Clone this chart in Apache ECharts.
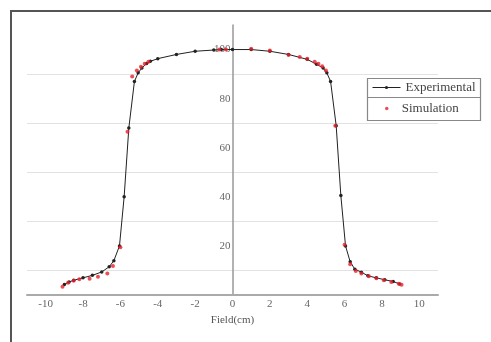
<!DOCTYPE html>
<html>
<head>
<meta charset="utf-8">
<script src="https://cdn.jsdelivr.net/npm/echarts@6/dist/echarts.min.js"></script>
<style>
html,body{margin:0;padding:0;background:#fff;}
#c{width:491px;height:342px;}
</style>
</head>
<body>
<div id="c"></div>
<script>
// Experimental (black line with markers)
var expX = [-9, -8.75, -8.5, -8, -7.5, -7, -6.6, -6.35, -6.05, -5.8, -5.55, -5.25, -5.05, -4.85, -4.6, -4.4, -4, -3, -2, -1, -0.6, 0, 1, 2, 3, 4, 4.5, 4.85, 5.05, 5.25, 5.55, 5.8, 6.05, 6.3, 6.55, 6.9, 7.25, 7.7, 8.15, 8.6, 8.95];
var expY = [4.3, 5.3, 6.0, 7.0, 8.0, 9.4, 11.5, 14, 20, 40, 68, 87, 90.5, 92.5, 94.3, 95.2, 96.3, 98, 99.3, 99.8, 100, 100, 100, 99.3, 98, 96, 94, 92.5, 90.5, 87, 69, 40.5, 20, 13.5, 10.5, 9.3, 7.8, 7, 6.2, 5.5, 4.5];
// Simulation (red points)
var simX = [-9.1, -8.8, -8.5, -8.2, -7.65, -7.2, -6.7, -6.4, -6.0, -5.62, -5.37, -5.12, -4.9, -4.7, -4.5, -0.7, -0.35, 1.0, 2.0, 3.0, 3.6, 4.0, 4.4, 4.6, 4.8, 5.0, 5.5, 6.0, 6.3, 6.6, 6.9, 7.3, 7.7, 8.1, 8.5, 8.9, 9.05];
var simY = [3.4, 5.0, 5.8, 6.4, 6.6, 7.4, 8.8, 11.8, 19.5, 66.5, 89, 91.5, 93, 94.2, 95, 100, 100, 100.3, 99.6, 97.8, 97, 96.2, 95, 94.2, 93.2, 91.5, 69, 20.5, 12.5, 9.8, 8.8, 7.6, 6.8, 6.0, 5.3, 4.6, 4.2];
var xTickLabels = ['-10', '-8', '-6', '-4', '-2', '0', '2', '4', '6', '8', '10'];
var yTickLabels = ['20', '40', '60', '80', '100'];
var seriesNames = ['Experimental', 'Simulation'];
var xAxisTitle = 'Field(cm)';

var expData = expX.map(function (x, i) { return [x, expY[i]]; });
var simData = simX.map(function (x, i) { return [x, simY[i]]; });

var font = 'Liberation Serif';
var gridLeft = 27, gridRight = 53, W = 491;
var zeroOffset = -((W - gridLeft - gridRight) / 2);
var chart = echarts.init(document.getElementById('c'));
chart.setOption({
  animation: false,
  backgroundColor: '#fff',
  grid: { left: gridLeft, right: gridRight, top: 25, bottom: 47 },
  xAxis: {
    type: 'value', min: -11, max: 11, interval: 1,
    axisLine: { onZero: false, lineStyle: { color: '#aaa', width: 2 } },
    axisTick: { show: false },
    splitLine: { show: false },
    axisLabel: {
      margin: 4, color: '#666', fontFamily: font, fontSize: 11,
      formatter: function (v) { var s = String(v); return xTickLabels.indexOf(s) >= 0 ? s : ''; }
    },
    name: xAxisTitle, nameLocation: 'middle', nameGap: 18,
    nameTextStyle: { color: '#555', fontFamily: font, fontSize: 11 }
  },
  yAxis: {
    type: 'value', min: 0, max: 110, interval: 10,
    position: 'left', offset: zeroOffset,
    axisLine: { onZero: false, lineStyle: { color: '#999', width: 1.5 } },
    axisTick: { show: false },
    splitLine: { show: true, lineStyle: { width: 1, color: ['rgba(0,0,0,0)', '#e2e2e2', 'rgba(0,0,0,0)', '#e2e2e2', 'rgba(0,0,0,0)', '#e2e2e2', 'rgba(0,0,0,0)', '#e2e2e2', 'rgba(0,0,0,0)', '#e2e2e2', 'rgba(0,0,0,0)', 'rgba(0,0,0,0)'] } },
    axisLabel: {
      margin: 2, color: '#666', fontFamily: font, fontSize: 11,
      formatter: function (v) { var s = String(v); return yTickLabels.indexOf(s) >= 0 ? s : ''; }
    }
  },
  legend: [
    {
      data: [seriesNames[0]], left: 372, top: 81, itemWidth: 28, itemHeight: 4, padding: 0,
      lineStyle: { width: 1 },
      textStyle: { color: '#444', fontFamily: font, fontSize: 13 }
    },
    {
      data: [{ name: seriesNames[1], icon: 'circle' }], left: 385, top: 102, itemWidth: 20, itemHeight: 3.5, padding: 0,
      textStyle: { color: '#444', fontFamily: font, fontSize: 13 }
    }
  ],
  graphic: [
    { type: 'rect', shape: { x: 11, y: 11, width: 600, height: 600 }, style: { fill: 'none', stroke: '#555', lineWidth: 2 }, silent: true },
    { type: 'rect', shape: { x: 367.5, y: 78.5, width: 113, height: 42 }, style: { fill: 'none', stroke: '#888', lineWidth: 1.2 }, silent: true, z: 10 },
    { type: 'line', shape: { x1: 367.5, y1: 97.5, x2: 480.5, y2: 97.5 }, style: { stroke: '#888', lineWidth: 1.2 }, silent: true, z: 10 }
  ],
  series: [
    {
      name: seriesNames[0], type: 'line', data: expData,
      symbol: 'circle', symbolSize: 3.5, showSymbol: true,
      lineStyle: { color: '#222', width: 1 },
      itemStyle: { color: '#222' }, z: 2
    },
    {
      name: seriesNames[1], type: 'scatter', data: simData,
      symbol: 'circle', symbolSize: 4,
      itemStyle: { color: '#e8202a' }, z: 3
    }
  ]
});
</script>
</body>
</html>
